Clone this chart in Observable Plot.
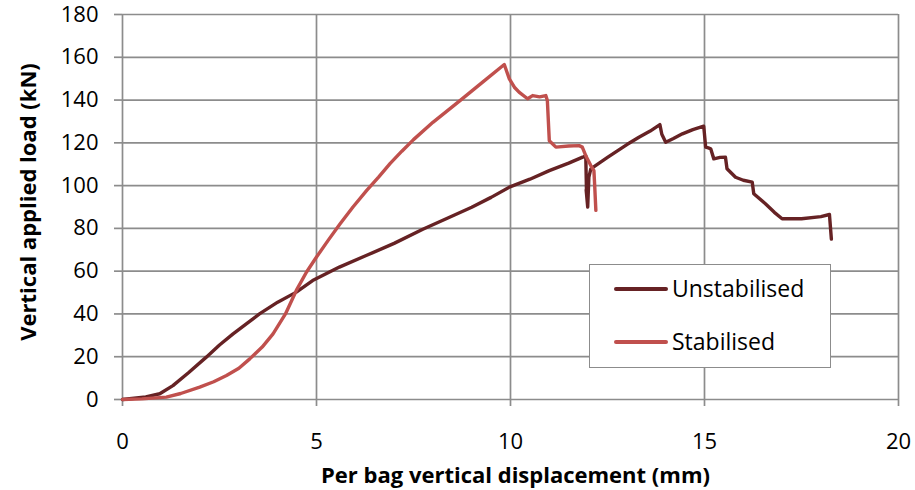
<!DOCTYPE html>
<html>
<head>
<meta charset="utf-8">
<script src="https://cdn.jsdelivr.net/npm/d3@7"></script>
<script src="https://cdn.jsdelivr.net/npm/@observablehq/plot@0.6"></script>
<style>
  body { margin: 0; background: #fff; }
  #wrap { position: relative; width: 915px; height: 490px; font-family: "Open Sans", Lato, sans-serif; }
  #legend { position: absolute; left: 589px; top: 264px; width: 240px; height: 102px; border: 1.5px solid #8c8c8c; background: #fff; }
  .lgt { position: absolute; left: 82px; font-size: 23px; line-height: 23px; color: #000; white-space: nowrap; }
  .sw { position: absolute; left: 24px; width: 54px; height: 4px; border-radius: 2px; }
</style>
</head>
<body>
<div id="wrap"></div>
<script>
// Unstabilised series (displacement mm, load kN)
const unstabX = [0, 0.3, 0.6, 0.96, 1.3, 1.7, 2.16, 2.5, 2.85, 3.2, 3.53, 4.0, 4.48, 4.9, 5.59, 6.28, 7.0, 7.74, 8.4, 9.0, 9.5, 9.97, 10.5, 11.0, 11.5, 11.86, 11.94, 11.96, 11.95, 11.99, 12.02, 12.07, 12.5, 13.0, 13.31, 13.6, 13.85, 13.9, 14.0, 14.2, 14.43, 14.7, 14.98, 15.03, 15.1, 15.16, 15.24, 15.4, 15.54, 15.58, 15.8, 16.0, 16.23, 16.27, 16.57, 16.8, 17.0, 17.5, 18.0, 18.22, 18.27];
const unstabY = [0, 0.6, 1.2, 2.7, 6.5, 12.5, 19.8, 25.5, 30.7, 35.5, 40, 45.5, 50.2, 55.6, 61.9, 67.3, 73, 79.6, 85, 89.9, 94.5, 99.3, 103, 107, 110.5, 113.3, 114, 96, 98, 90, 104, 107.8, 113.2, 119.2, 122.6, 125.5, 128.5, 124, 120.3, 122, 124.2, 126.2, 127.8, 118, 117.6, 117.2, 112.5, 113.2, 113.3, 107.9, 103.9, 102.5, 101.6, 96.2, 91.5, 87.5, 84.5, 84.5, 85.5, 86.5, 75];

// Stabilised series
const stabX = [0, 0.5, 1.13, 1.5, 1.99, 2.35, 2.68, 3.0, 3.28, 3.6, 3.88, 4.2, 4.48, 4.74, 5.0, 5.3, 5.6, 5.94, 6.3, 6.6, 6.9, 7.2, 7.5, 8.0, 8.69, 9.29, 9.84, 9.97, 10.1, 10.22, 10.44, 10.57, 10.75, 10.91, 10.95, 11.0, 11.17, 11.5, 11.77, 11.85, 11.94, 12.07, 12.15, 12.17, 12.2];
const stabY = [0, 0.3, 1.1, 2.8, 5.8, 8.3, 11.2, 14.6, 19, 24.5, 30.7, 40, 51, 59.5, 66.6, 74.4, 81.9, 90, 97.9, 104, 110.4, 116.1, 121.5, 129.6, 139.6, 148.5, 156.6, 149.9, 146, 143.7, 140.6, 142.1, 141.5, 142.1, 139.8, 121, 118, 118.5, 118.7, 118, 114, 109.4, 107, 100, 88.4];

const xTicks = [0, 5, 10, 15, 20];
const yTicks = [0, 20, 40, 60, 80, 100, 120, 140, 160, 180];
const seriesNames = ["Unstabilised", "Stabilised"];
const seriesColors = ["#662224", "#c0504d"];
const xTitle = "Per bag vertical displacement (mm)";
const yTitle = "Vertical applied load (kN)";

const unstab = unstabX.map((x, i) => ({x, y: unstabY[i]}));
const stab = stabX.map((x, i) => ({x, y: stabY[i]}));

const gridColor = "#8c8c8c";
const font = "'Open Sans', Lato, sans-serif";

const chart = Plot.plot({
  width: 915,
  height: 490,
  marginLeft: 122,
  marginRight: 17,
  marginTop: 14,
  marginBottom: 91,
  style: { fontFamily: font, background: "#fff", overflow: "visible" },
  x: { domain: [0, 20], ticks: xTicks },
  y: { domain: [0, 180], ticks: yTicks },
  marks: [
    Plot.gridX(xTicks, { stroke: gridColor, strokeOpacity: 1, strokeWidth: 1.7 }),
    Plot.gridY(yTicks, { stroke: gridColor, strokeOpacity: 1, strokeWidth: 1.7 }),
    Plot.axisX(xTicks, { tickSize: 7, tickPadding: 27, fontSize: 22, stroke: gridColor, strokeWidth: 1.7, fill: "#000", label: null }),
    Plot.axisY(yTicks, { tickSize: 8, tickPadding: 16, fontSize: 22, stroke: gridColor, strokeWidth: 1.7, fill: "#000", label: null }),
    Plot.line(unstab, { x: "x", y: "y", stroke: seriesColors[0], strokeWidth: 3.4, strokeLinejoin: "round", strokeLinecap: "round" }),
    Plot.line(stab, { x: "x", y: "y", stroke: seriesColors[1], strokeWidth: 3.4, strokeLinejoin: "round", strokeLinecap: "round" }),
    Plot.text([xTitle], { frameAnchor: "bottom", lineAnchor: "middle", textAnchor: "middle", dy: 76, dx: 5, fontSize: 22, fontWeight: "bold", fill: "#000" }),
    Plot.text([yTitle], { frameAnchor: "left", lineAnchor: "middle", textAnchor: "middle", rotate: -90, dx: -94, dy: -5, fontSize: 22, fontWeight: "bold", fill: "#000" })
  ]
});

const wrap = document.getElementById("wrap");
wrap.appendChild(chart);

const legend = document.createElement("div");
legend.id = "legend";
const rowTops = [12, 65];
seriesNames.forEach((name, i) => {
  const sw = document.createElement("div");
  sw.className = "sw";
  sw.style.top = (rowTops[i] + 10) + "px";
  sw.style.background = seriesColors[i];
  const t = document.createElement("div");
  t.className = "lgt";
  t.style.top = rowTops[i] + "px";
  t.textContent = name;
  legend.appendChild(sw);
  legend.appendChild(t);
});
wrap.appendChild(legend);
</script>
</body>
</html>
